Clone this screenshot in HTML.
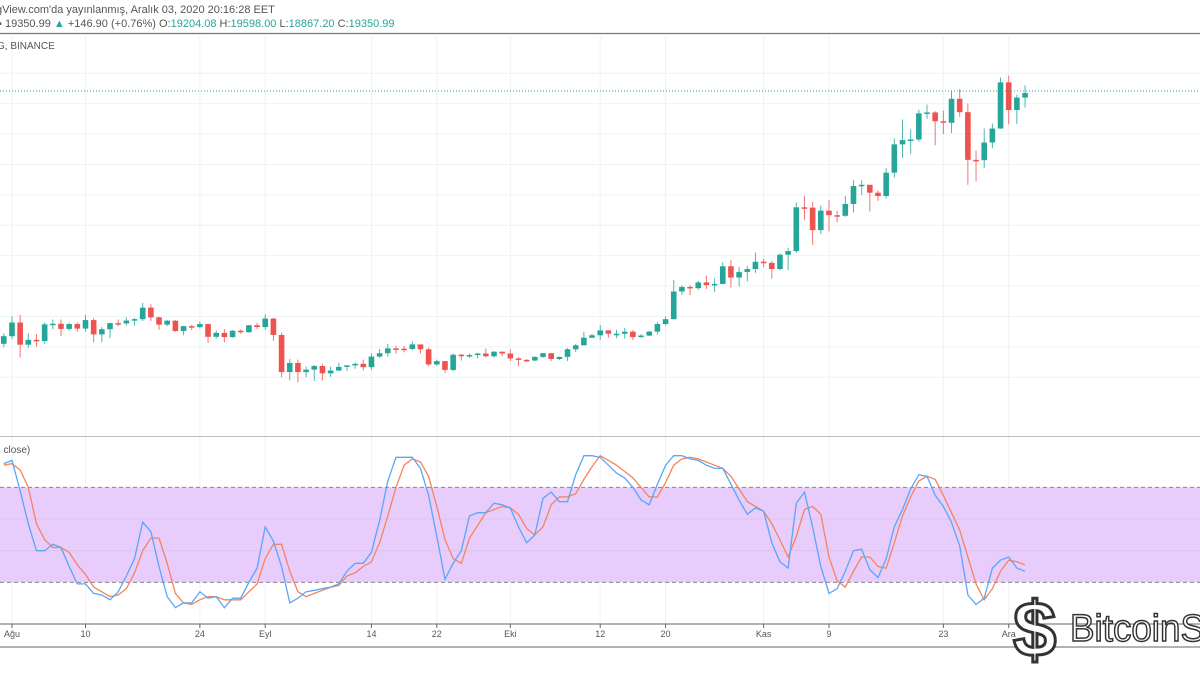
<!DOCTYPE html>
<html><head><meta charset="utf-8"><style>
html,body{margin:0;padding:0;background:#fff;width:1200px;height:675px;overflow:hidden}
svg{display:block}
text{font-family:"Liberation Sans","DejaVu Sans",sans-serif}
</style></head><body>
<svg id="chart" width="1200" height="675" viewBox="0 0 1200 675" xmlns="http://www.w3.org/2000/svg">
<rect width="1200" height="675" fill="#fff"/>
<text x="-4" y="13" font-size="11" fill="#555">gView.com'da yayınlanmış, Aralık 03, 2020 20:16:28 EET</text>
<text x="-2" y="27" font-size="11" fill="#555">▪ 19350.99 <tspan fill="#26a69a">▲</tspan> +146.90 (+0.76%) O:<tspan fill="#26a69a">19204.08</tspan> H:<tspan fill="#26a69a">19598.00</tspan> L:<tspan fill="#26a69a">18867.20</tspan> C:<tspan fill="#26a69a">19350.99</tspan></text>
<line x1="0" y1="33.5" x2="1200" y2="33.5" stroke="#777" stroke-width="1.2"/>
<g id="grid"></g>
<text x="-3" y="49" font-size="10" fill="#555">G, BINANCE</text>
<g id="candles"></g>
<line id="lastline" stroke="#26a69a" stroke-width="1" stroke-dasharray="1,2"/>
<line x1="0" y1="436.5" x2="1200" y2="436.5" stroke="#bbb" stroke-width="1"/>
<text x="-2" y="453" font-size="10" fill="#555">, close)</text>
<g id="stoch"></g>
<line x1="0" y1="624" x2="1200" y2="624" stroke="#666" stroke-width="1"/>
<line x1="0" y1="647" x2="1200" y2="647" stroke="#666" stroke-width="1"/>
<g id="xticks"></g>
<g>
<text x="1013" y="656" font-size="78" font-weight="bold" fill="#fff" stroke="#333" stroke-width="3" font-family="Liberation Sans, sans-serif">$</text>
<text x="1070" y="641" font-size="38" fill="#fff" stroke="#333" stroke-width="1.5" textLength="135" lengthAdjust="spacingAndGlyphs">BitcoinS</text>
</g>
</svg>
<script>
const dates = ["Jul31","Aug1","Aug2","Aug3","Aug4","Aug5","Aug6","Aug7","Aug8","Aug9","Aug10","Aug11","Aug12","Aug13","Aug14","Aug15","Aug16","Aug17","Aug18","Aug19","Aug20","Aug21","Aug22","Aug23","Aug24","Aug25","Aug26","Aug27","Aug28","Aug29","Aug30","Aug31","Sep1","Sep2","Sep3","Sep4","Sep5","Sep6","Sep7","Sep8","Sep9","Sep10","Sep11","Sep12","Sep13","Sep14","Sep15","Sep16","Sep17","Sep18","Sep19","Sep20","Sep21","Sep22","Sep23","Sep24","Sep25","Sep26","Sep27","Sep28","Sep29","Sep30","Oct1","Oct2","Oct3","Oct4","Oct5","Oct6","Oct7","Oct8","Oct9","Oct10","Oct11","Oct12","Oct13","Oct14","Oct15","Oct16","Oct17","Oct18","Oct19","Oct20","Oct21","Oct22","Oct23","Oct24","Oct25","Oct26","Oct27","Oct28","Oct29","Oct30","Oct31","Nov1","Nov2","Nov3","Nov4","Nov5","Nov6","Nov7","Nov8","Nov9","Nov10","Nov11","Nov12","Nov13","Nov14","Nov15","Nov16","Nov17","Nov18","Nov19","Nov20","Nov21","Nov22","Nov23","Nov24","Nov25","Nov26","Nov27","Nov28","Nov29","Nov30","Dec1","Dec2","Dec3"];
const closes = [11350,11800,11070,11230,11190,11740,11760,11590,11750,11600,11880,11410,11580,11780,11770,11865,11910,12290,11970,11730,11860,11520,11680,11650,11750,11330,11460,11320,11530,11480,11710,11650,11930,11390,10170,10470,10170,10250,10370,10130,10220,10340,10390,10440,10330,10680,10790,10950,10940,10930,11080,10920,10420,10530,10240,10740,10690,10730,10780,10690,10840,10780,10620,10570,10550,10670,10790,10600,10670,10920,11050,11300,11380,11540,11430,11430,11500,11320,11370,11500,11750,11910,12820,12970,12930,13120,13030,13070,13650,13280,13460,13560,13800,13760,13560,14030,14150,15590,15580,14840,15480,15330,15310,15700,16290,16330,16070,15960,16730,17660,17800,17820,18680,18710,18420,18370,19160,18720,17150,17140,17720,18180,19700,18790,19200,19350];
const highs = [11450,12000,12050,11450,11420,11800,11900,11900,11800,11810,12050,11950,11650,11800,11900,11970,11950,12450,12400,12000,11880,11880,11690,11720,11830,11770,11540,11590,11550,11570,11720,11790,12070,11950,11470,10600,10580,10350,10400,10440,10350,10480,10400,10480,10580,10790,10930,11100,11040,11030,11180,11060,10980,10580,10540,10780,10770,10780,10800,10950,10860,10850,10920,10660,10600,10690,10800,10800,10680,10960,11100,11490,11430,11720,11550,11560,11620,11550,11420,11520,11820,12000,13200,13020,13030,13170,13350,13250,13790,13860,13630,13660,14100,13900,13820,14070,14250,15750,15970,15770,15650,15830,15470,15960,16480,16480,16330,16150,16880,17860,18480,18150,18800,18970,18750,18770,19420,19480,19000,17460,18180,18350,19860,19920,19300,19600];
const lows = [10990,11250,10650,10970,11000,11100,11570,11350,11530,11500,11500,11150,11160,11280,11680,11700,11700,11850,11850,11560,11680,11500,11380,11550,11600,11130,11270,11150,11300,11430,11460,11580,11560,11200,10000,9900,9830,10000,9880,9890,10010,10200,10200,10280,10220,10250,10640,10680,10780,10820,10890,10780,10360,10380,10140,10200,10550,10640,10620,10650,10640,10690,10530,10370,10500,10530,10630,10530,10560,10530,10830,11050,11280,11230,11300,11280,11270,11220,11300,11350,11400,11700,11900,12700,12700,12880,12900,12800,13060,12950,12990,13150,13430,13620,13240,13520,13530,14100,15170,14350,14720,14800,15100,15280,15420,15990,15450,15800,15880,16570,17210,17350,17750,18500,17630,18000,18030,18570,16330,16450,16880,17530,18180,18320,18330,18870];
const stochK = [95,97,78,57,40,40,44,42,30,19,19,13,12,9,14,24,35,58,52,30,11,4,7,7,14,10,11,4,10,10,20,29,55,46,30,7,10,14,15,16,17,19,27,32,32,39,59,84,99,99,99,92,75,49,22,32,40,62,64,64,70,69,67,55,45,50,73,77,71,71,88,100,100,99,94,89,86,80,72,69,82,94,100,100,98,97,94,92,92,82,72,63,67,65,45,33,29,70,77,55,30,13,16,27,40,41,28,23,35,55,66,79,88,87,75,68,58,43,12,6,10,29,34,36,29,27];
const stochD = [94,95,91,80,57,47,42,42,39,31,25,17,14,11,12,16,26,40,48,48,32,13,7,6,9,11,11,9,9,9,14,19,35,44,44,27,14,11,13,15,17,18,24,26,30,33,45,62,80,94,98,96,87,68,47,35,32,48,56,64,66,68,67,63,54,50,55,69,74,74,76,85,93,100,97,94,90,86,80,74,74,83,94,98,99,98,96,94,92,87,79,71,68,65,57,47,36,49,66,68,63,36,21,17,27,36,36,30,29,45,62,74,84,87,85,75,64,53,36,19,9,16,27,34,33,31];
const tickLabels = ["Ağu","10","24","Eyl","14","22","Eki","12","20","Kas","9","23","Ara"];
const tickIndex = [1,10,24,32,45,53,62,73,81,93,101,115,123];
const priceGrid = [10000,11000,12000,13000,14000,15000,16000,17000,18000,19000,20000];
const stochGrid = [40,60];

const NS="http://www.w3.org/2000/svg";
function mk(tag, attrs, parent){const e=document.createElementNS(NS,tag);for(const k in attrs)e.setAttribute(k,attrs[k]);parent.appendChild(e);return e;}
const xOf = i => 3.8 + 8.17*i;
const yP = p => 93 + (19350 - p)*0.0304;
const yS = v => 614 - v*1.583;

const grid=document.getElementById('grid');
priceGrid.forEach(p=>{const y=yP(p); if(y>36&&y<434){const l=mk('line',{x1:0,x2:1200,y1:y,y2:y,stroke:'#edf2f6','stroke-width':1},grid);

}});
tickIndex.forEach(i=>{const x=xOf(i);const l=mk('line',{x1:x,x2:x,y1:36,y2:624,stroke:'#edf2f6','stroke-width':1},grid);

});

const cg=document.getElementById('candles');
closes.forEach((c,i)=>{
  const o = i===0 ? 11100 : closes[i-1];
  const up = c>=o; const col = up?'#26a69a':'#ef5350';
  const x=xOf(i);
  const w=mk('line',{x1:x,x2:x,y1:yP(highs[i]),y2:yP(lows[i]),stroke:col,'stroke-width':1,opacity:0.8},cg);
  
  
  const t=Math.min(yP(o),yP(c)), h=Math.max(1.5,Math.abs(yP(o)-yP(c)));
  const b=mk('rect',{x:x-2.8,y:t,width:5.6,height:h,fill:col},cg);
  
  
});
const ll=document.getElementById('lastline');
const ly=yP(closes[closes.length-1])-2;
ll.setAttribute('x1',0);ll.setAttribute('x2',1200);ll.setAttribute('y1',ly);ll.setAttribute('y2',ly);

const sg=document.getElementById('stoch');
const band=mk('rect',{x:0,y:yS(80),width:1200,height:yS(20)-yS(80),fill:'#e8ccfb'},sg);


stochGrid.forEach(v=>{const l=mk('line',{x1:0,x2:1200,y1:yS(v),y2:yS(v),stroke:'#dcc4ee','stroke-width':1},sg);

});
[80,20].forEach(v=>{const l=mk('line',{x1:0,x2:1200,y1:yS(v),y2:yS(v),stroke:'#888','stroke-width':1,'stroke-dasharray':'4,3'},sg);

});
const line=(arr,col,name)=>{const d=arr.map((v,i)=>(i?'L':'M')+xOf(i).toFixed(1)+','+yS(v).toFixed(1)).join('');
const p=mk('path',{d:d,fill:'none',stroke:col,'stroke-width':1.3},sg);

};
line(stochD,'#f5845c','stoch-d-line');
line(stochK,'#5aa6f7','stoch-k-line');

const xt=document.getElementById('xticks');
tickLabels.forEach((s,k)=>{const x=xOf(tickIndex[k]);
const tk=mk('line',{x1:x,x2:x,y1:624,y2:628,stroke:'#666'},xt);


const t=mk('text',{x:x,y:637,'font-size':9,fill:'#555','text-anchor':'middle'},xt);t.textContent=s;

});
</script>
</body></html>
